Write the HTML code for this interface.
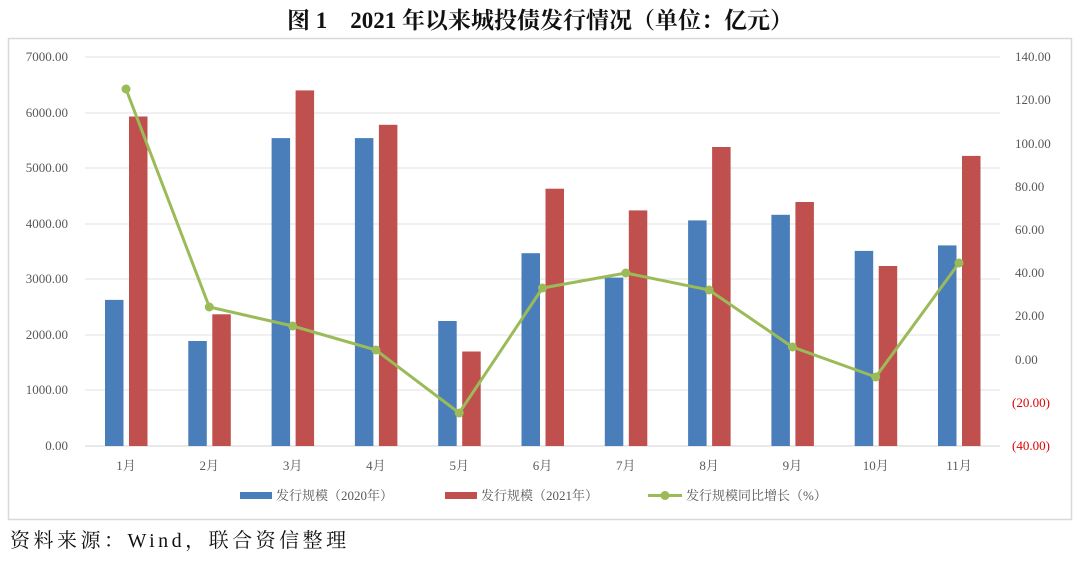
<!DOCTYPE html>
<html><head><meta charset="utf-8"><style>
body{margin:0;width:1080px;height:556px;background:#fff;overflow:hidden}
</style></head><body>
<svg width="1080" height="556" xmlns="http://www.w3.org/2000/svg" font-family="'Liberation Serif','Noto Serif CJK SC',serif">
<text x="540" y="28" text-anchor="middle" font-size="23" font-weight="bold" fill="#111">图 1　2021 年以来城投债发行情况（单位：亿元）</text>
<rect x="8.5" y="38.5" width="1063" height="481" fill="#fff" stroke="#d9d9d9" stroke-width="1.5"/>
<g stroke="#e0e0e0" stroke-width="1">
<line x1="85" x2="1000" y1="57" y2="57"/><line x1="85" x2="1000" y1="113" y2="113"/><line x1="85" x2="1000" y1="168" y2="168"/><line x1="85" x2="1000" y1="224" y2="224"/><line x1="85" x2="1000" y1="279" y2="279"/><line x1="85" x2="1000" y1="335" y2="335"/><line x1="85" x2="1000" y1="390" y2="390"/>
</g>
<line x1="85" x2="1000" y1="446" y2="446" stroke="#d0d0d0"/>
<g font-size="13" fill="#595959" text-anchor="end">
<text x="68" y="61">7000.00</text><text x="68" y="117">6000.00</text><text x="68" y="172">5000.00</text><text x="68" y="228">4000.00</text><text x="68" y="283">3000.00</text><text x="68" y="339">2000.00</text><text x="68" y="394">1000.00</text><text x="68" y="450">0.00</text>
</g>
<g font-size="13" fill="#595959">
<text x="1015" y="61">140.00</text><text x="1015" y="104">120.00</text><text x="1015" y="148">100.00</text><text x="1015" y="191">80.00</text><text x="1015" y="234">60.00</text><text x="1015" y="277">40.00</text><text x="1015" y="320">20.00</text><text x="1015" y="364">0.00</text>
<text x="1012" y="407" fill="#e00000">(20.00)</text><text x="1012" y="450" fill="#e00000">(40.00)</text>
</g>
<g fill="#4a7ebb">
<rect x="105" y="299.9" width="18.5" height="146.1"/>
<rect x="188.3" y="341" width="18.5" height="105"/>
<rect x="271.6" y="138.1" width="18.5" height="307.9"/>
<rect x="354.9" y="138.1" width="18.5" height="307.9"/>
<rect x="438.2" y="321" width="18.5" height="125"/>
<rect x="521.5" y="253.2" width="18.5" height="192.8"/>
<rect x="604.8" y="277.6" width="18.5" height="168.4"/>
<rect x="688.1" y="220.4" width="18.5" height="225.6"/>
<rect x="771.4" y="214.8" width="18.5" height="231.2"/>
<rect x="854.7" y="250.9" width="18.5" height="195.1"/>
<rect x="938" y="245.4" width="18.5" height="200.6"/>
</g>
<g fill="#c0504d">
<rect x="129" y="116.5" width="18.5" height="329.5"/>
<rect x="212.3" y="314.3" width="18.5" height="131.7"/>
<rect x="295.6" y="90.4" width="18.5" height="355.6"/>
<rect x="378.9" y="124.8" width="18.5" height="321.2"/>
<rect x="462.2" y="351.5" width="18.5" height="94.5"/>
<rect x="545.5" y="188.7" width="18.5" height="257.3"/>
<rect x="628.8" y="210.4" width="18.5" height="235.6"/>
<rect x="712.1" y="147" width="18.5" height="299"/>
<rect x="795.4" y="202" width="18.5" height="244"/>
<rect x="878.7" y="266" width="18.5" height="180"/>
<rect x="962" y="155.9" width="18.5" height="290.1"/>
</g>
<g font-size="13" fill="#595959" text-anchor="middle">
<text x="126" y="470">1月</text><text x="209.3" y="470">2月</text><text x="292.6" y="470">3月</text><text x="375.9" y="470">4月</text><text x="459.2" y="470">5月</text><text x="542.5" y="470">6月</text><text x="625.8" y="470">7月</text><text x="709.1" y="470">8月</text><text x="792.4" y="470">9月</text><text x="875.7" y="470">10月</text><text x="959" y="470">11月</text>
</g>
<polyline points="126,89 209.3,307 292.6,326 375.9,350 459.2,413 542.5,288 625.8,273 709.1,290 792.4,347 875.7,377 959,263" fill="none" stroke="#9bbb59" stroke-width="3"/>
<g fill="#9bbb59">
<circle cx="126" cy="89" r="4.5"/><circle cx="209.3" cy="307" r="4.5"/><circle cx="292.6" cy="326" r="4.5"/><circle cx="375.9" cy="350" r="4.5"/><circle cx="459.2" cy="413" r="4.5"/><circle cx="542.5" cy="288" r="4.5"/><circle cx="625.8" cy="273" r="4.5"/><circle cx="709.1" cy="290" r="4.5"/><circle cx="792.4" cy="347" r="4.5"/><circle cx="875.7" cy="377" r="4.5"/><circle cx="959" cy="263" r="4.5"/>
</g>
<rect x="240" y="492" width="32" height="7" fill="#4a7ebb"/>
<text x="276" y="500" font-size="13" fill="#595959">发行规模（2020年）</text>
<rect x="445" y="492" width="32" height="7" fill="#c0504d"/>
<text x="481" y="500" font-size="13" fill="#595959">发行规模（2021年）</text>
<line x1="648" x2="682" y1="495.5" y2="495.5" stroke="#9bbb59" stroke-width="3"/>
<circle cx="665" cy="495.5" r="4.5" fill="#9bbb59"/>
<text x="686" y="500" font-size="13" fill="#595959">发行规模同比增长（%）</text>
<text x="10" y="547" font-size="20" fill="#111" letter-spacing="3.5">资料来源：Wind，联合资信整理</text>
</svg>
</body></html>
